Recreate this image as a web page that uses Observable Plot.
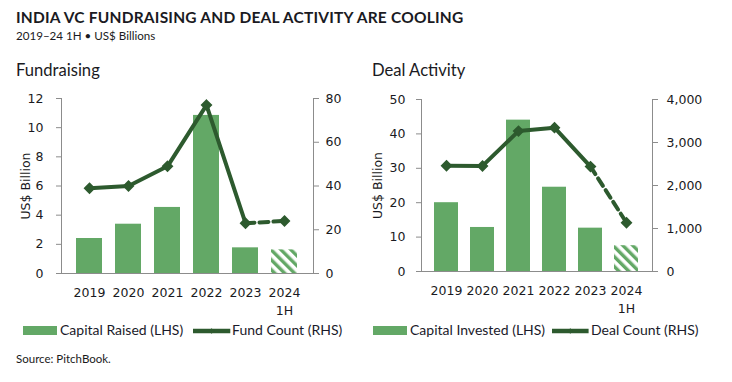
<!DOCTYPE html>
<html>
<head>
<meta charset="utf-8">
<script src="https://cdn.jsdelivr.net/npm/d3@7"></script>
<script src="https://cdn.jsdelivr.net/npm/@observablehq/plot@0.6"></script>
<style>
  html, body { margin: 0; padding: 0; background: #fff; }
  #root { position: relative; width: 732px; height: 382px; overflow: hidden; background: #fff; color: #1a1a1a; }
  .abs { position: absolute; white-space: nowrap; line-height: 1; }
  .title { font-family: Lato, "Open Sans", sans-serif; font-weight: 700; font-size: 15.5px; letter-spacing: 0.22px; color: #1a1a22; }
  .sub { font-family: Lato, sans-serif; font-size: 11.6px; color: #1a1a22; }
  .panel { font-family: Lato, sans-serif; font-size: 16.6px; color: #1a1a22; }
  .ltxt { font-family: Lato, sans-serif; font-size: 14px; color: #1a1a2a; }
  .sw { height: 9.3px; background: #63a866; }
  .source { font-family: Lato, sans-serif; font-size: 11.5px; color: #1a1a1a; }
  svg.plot { position: absolute; top: 80px; overflow: visible; }
</style>
</head>
<body>
<div id="root">
  <div class="abs title" style="left:16px; top:9.5px;">INDIA VC FUNDRAISING AND DEAL ACTIVITY ARE COOLING</div>
  <div class="abs sub" style="left:16px; top:30.4px;">2019–24 1H • US$ Billions</div>
  <div class="abs panel" style="left:16px; top:61.5px;">Fundraising</div>
  <div class="abs panel" style="left:372px; top:61.5px;">Deal Activity</div>

  <div class="abs sw" style="left:22.7px; width:34px; top:326px;"></div>
  <div class="abs ltxt" style="left:60px; top:323px;">Capital Raised (LHS)</div>
  <svg class="abs" style="left:192.7px; top:325px;" width="38" height="12"><line x1="0" y1="6" x2="37.3" y2="6" stroke="#2d5a2e" stroke-width="4.3"/><path d="M18.6,3.2 L21.2,6 L18.6,8.8 L16,6Z" fill="#2d5a2e"/></svg>
  <div class="abs ltxt" style="left:232px; top:323px;">Fund Count (RHS)</div>

  <div class="abs sw" style="left:373.3px; width:33.4px; top:326px;"></div>
  <div class="abs ltxt" style="left:410px; top:323px;">Capital Invested (LHS)</div>
  <svg class="abs" style="left:551.7px; top:325px;" width="38" height="12"><line x1="0" y1="6" x2="36.6" y2="6" stroke="#2d5a2e" stroke-width="4.3"/><path d="M18.3,3.2 L20.9,6 L18.3,8.8 L15.7,6Z" fill="#2d5a2e"/></svg>
  <div class="abs ltxt" style="left:591px; top:323px;">Deal Count (RHS)</div>

  <div class="abs source" style="left:16px; top:352.8px;">Source: PitchBook.</div>
</div>
<script>
// ---- data ----
const years = ["2019", "2020", "2021", "2022", "2023", "2024"];
const yearLabels = ["2019", "2020", "2021", "2022", "2023", "2024\n1H"];
const capitalRaised = [2.4, 3.38, 4.53, 10.84, 1.76, 1.62];
const fundCount = [39, 40, 49, 77, 23, 24];
const capitalInvested = [20.0, 12.8, 44.0, 24.5, 12.6, 7.5];
const dealCount = [2460, 2455, 3265, 3345, 2440, 1135];
const leftTicksA = [0, 2, 4, 6, 8, 10, 12];
const rightTicksA = [0, 20, 40, 60, 80];
const leftTicksB = [0, 10, 20, 30, 40, 50];
const rightTicksB = [0, 1000, 2000, 3000, 4000];

const BAR = "#63a866";
const LINE = "#2d5a2e";
const AXIS = "#8c8c8c";

function makeChart(cfg) {
  const k = cfg.leftMax / cfg.rightMax;
  const rows = years.map((y, i) => ({year: y, label: yearLabels[i], bar: cfg.bars[i], count: cfg.counts[i], proj: i === years.length - 1}));
  const solid = rows.slice(0, rows.length - 1);
  const dashed = rows.slice(rows.length - 2);
  const svg = Plot.plot({
    width: 366, height: 240,
    marginLeft: cfg.ml, marginRight: cfg.mr, marginTop: cfg.mt, marginBottom: cfg.mb,
    style: {fontFamily: "DejaVu Sans, sans-serif", fontSize: "12.5px", color: "#1a1a22", background: "transparent"},
    x: {domain: years, padding: 0.33, axis: null},
    y: {domain: [0, cfg.leftMax], axis: null},
    marks: [
      Plot.barY(rows.filter(d => !d.proj), {x: "year", y: "bar", fill: BAR}),
      Plot.barY(rows.filter(d => d.proj), {x: "year", y: "bar", fill: `url(#${cfg.id})`}),
      Plot.ruleY([0], {stroke: AXIS}),
      Plot.frame({anchor: "left", stroke: AXIS}),
      Plot.frame({anchor: "right", stroke: AXIS}),
      Plot.axisY({anchor: "left", ticks: cfg.leftTicks, tickSize: 5, tickPadding: cfg.lp, stroke: AXIS,
        label: "US$ Billion", labelAnchor: "center", labelArrow: "none", labelOffset: cfg.lo}),
      Plot.axisY({anchor: "right", ticks: cfg.rightTicks.map(v => v * k), tickSize: 5, tickPadding: cfg.rp, stroke: AXIS,
        tickFormat: v => d3.format(",")(Math.round(v / k)), label: null}),
      Plot.text(rows, {x: "year", text: "label", frameAnchor: "bottom", lineAnchor: "top", dy: 10.5, lineHeight: 1.45, fill: "#1a1a22"}),
      Plot.line(solid, {x: "year", y: d => d.count * k, stroke: LINE, strokeWidth: 4}),
      Plot.line(dashed, {x: "year", y: d => d.count * k, stroke: LINE, strokeWidth: 4, strokeDasharray: "9,5"}),
      Plot.dot(rows, {x: "year", y: d => d.count * k, symbol: "diamond2", r: 4.4, fill: LINE, stroke: LINE, strokeWidth: 1.5})
    ]
  });
  svg.classList.add("plot");
  svg.style.left = cfg.left + "px";
  const ns = "http://www.w3.org/2000/svg";
  const defs = document.createElementNS(ns, "defs");
  const pat = document.createElementNS(ns, "pattern");
  pat.setAttribute("id", cfg.id);
  pat.setAttribute("patternUnits", "userSpaceOnUse");
  pat.setAttribute("width", "7");
  pat.setAttribute("height", "7");
  pat.setAttribute("patternTransform", "rotate(-45)");
  const r = document.createElementNS(ns, "rect");
  r.setAttribute("width", "3.4");
  r.setAttribute("height", "7");
  r.setAttribute("fill", BAR);
  pat.appendChild(r);
  defs.appendChild(pat);
  svg.insertBefore(defs, svg.firstChild);
  document.getElementById("root").appendChild(svg);
}

makeChart({id: "hatchA", left: 0, bars: capitalRaised, counts: fundCount, leftMax: 12, rightMax: 80,
  leftTicks: leftTicksA, rightTicks: rightTicksA, ml: 61, mr: 53, mt: 18, mb: 47, lp: 13, rp: 7, lo: 40});
makeChart({id: "hatchB", left: 366, bars: capitalInvested, counts: dealCount, leftMax: 50, rightMax: 4000,
  leftTicks: leftTicksB, rightTicks: rightTicksB, ml: 55, mr: 80, mt: 19, mb: 49, lp: 11, rp: 9, lo: 48});
</script>
</body>
</html>
